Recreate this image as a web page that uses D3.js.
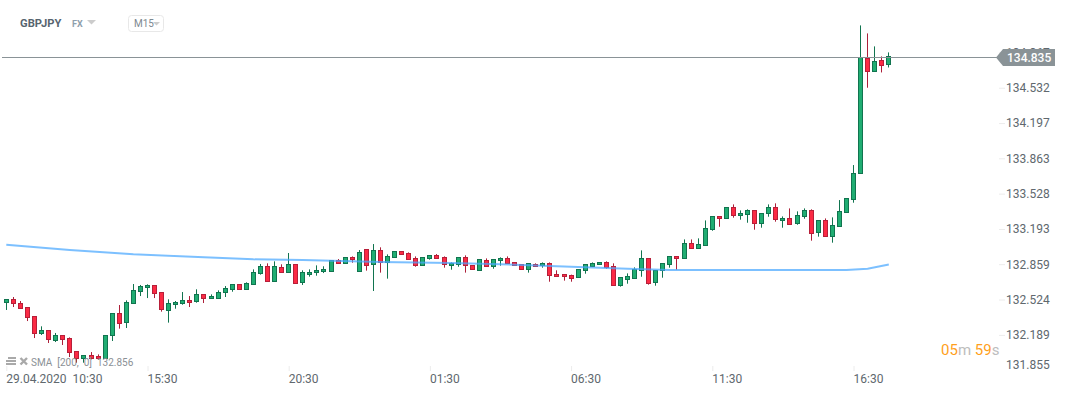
<!DOCTYPE html>
<html>
<head>
<meta charset="utf-8">
<script src="https://cdn.jsdelivr.net/npm/d3@7"></script>
<style>
    html, body { margin: 0; padding: 0; background: #fff; overflow: hidden; }
    text { font-family: Roboto, sans-serif; }
</style>
</head>
<body>
<script>
// 15 minute candles
const opens = [
    132.494,132.526,132.488,132.450,132.365,132.200,132.232,132.134,132.184,132.156,
    132.033,131.963,131.995,131.985,131.963,132.184,132.393,132.305,132.485,132.598,
    132.636,132.658,132.592,132.418,132.478,132.485,132.516,132.504,132.573,132.532,
    132.532,132.592,132.617,132.668,132.617,132.665,132.769,132.839,132.693,132.829,
    132.779,132.858,132.684,132.760,132.779,132.788,132.788,132.895,132.864,132.924,
    132.788,133.000,132.854,132.990,132.873,132.921,132.981,132.962,132.914,132.845,
    132.911,132.943,132.924,132.845,132.854,132.924,132.848,132.798,132.895,132.835,
    132.892,132.914,132.876,132.858,132.807,132.858,132.845,132.867,132.763,132.763,
    132.760,132.731,132.800,132.842,132.854,132.876,132.838,132.655,132.715,132.725,
    132.800,132.914,132.687,132.800,132.857,132.933,132.914,133.056,133.009,133.037,
    133.186,133.312,133.293,133.398,133.319,133.328,133.369,133.246,133.338,133.398,
    133.271,133.293,133.246,133.309,133.369,133.161,133.274,133.123,133.218,133.350,
    133.473,133.720,134.810,134.687,134.791,134.753
];
const highs = [
    132.526,132.548,132.510,132.450,132.365,132.270,132.232,132.207,132.184,132.165,
    132.033,131.995,132.026,132.004,132.184,132.393,132.472,132.516,132.671,132.662,
    132.668,132.658,132.592,132.526,132.510,132.595,132.557,132.621,132.573,132.573,
    132.611,132.652,132.668,132.668,132.687,132.810,132.861,132.867,132.886,132.858,
    132.965,132.858,132.801,132.810,132.848,132.839,132.895,132.908,132.924,132.933,
    132.993,133.000,133.050,133.019,132.952,132.981,132.981,132.971,132.933,132.924,
    132.943,132.955,132.933,132.876,132.924,132.943,132.848,132.905,132.914,132.905,
    132.924,132.933,132.876,132.858,132.867,132.867,132.876,132.876,132.801,132.763,
    132.760,132.810,132.857,132.876,132.876,132.886,132.867,132.734,132.772,132.829,
    132.990,132.914,132.800,132.867,132.933,132.933,133.094,133.094,133.104,133.274,
    133.312,133.312,133.398,133.426,133.369,133.379,133.369,133.341,133.426,133.436,
    133.312,133.388,133.360,133.388,133.379,133.274,133.293,133.303,133.467,133.483,
    133.799,135.123,135.047,134.924,134.829,134.867
];
const lows = [
    132.425,132.453,132.437,132.320,132.159,132.188,132.112,132.121,132.093,131.979,
    131.925,131.925,131.957,131.954,131.963,132.131,132.248,132.254,132.485,132.557,
    132.538,132.538,132.409,132.305,132.437,132.475,132.453,132.494,132.491,132.532,
    132.532,132.548,132.598,132.617,132.617,132.665,132.760,132.693,132.693,132.779,
    132.779,132.674,132.662,132.741,132.750,132.775,132.788,132.864,132.864,132.873,
    132.788,132.798,132.605,132.779,132.722,132.921,132.949,132.902,132.835,132.845,
    132.902,132.911,132.826,132.807,132.835,132.779,132.807,132.798,132.835,132.816,
    132.845,132.864,132.845,132.807,132.779,132.835,132.826,132.693,132.741,132.703,
    132.693,132.731,132.769,132.832,132.854,132.816,132.658,132.646,132.674,132.725,
    132.740,132.665,132.655,132.731,132.826,132.807,132.914,133.009,133.009,133.037,
    133.176,133.214,133.293,133.300,133.281,133.252,133.186,133.205,133.309,133.262,
    133.205,133.233,133.233,133.290,133.082,133.120,133.123,133.063,133.218,133.350,
    133.442,133.720,134.532,134.687,134.677,134.724
];
const closes = [
    132.526,132.485,132.437,132.352,132.200,132.232,132.143,132.184,132.143,132.020,
    131.963,131.995,131.970,131.963,132.184,132.393,132.295,132.497,132.611,132.649,
    132.658,132.579,132.431,132.488,132.497,132.516,132.494,132.573,132.532,132.554,
    132.592,132.630,132.668,132.617,132.677,132.782,132.839,132.693,132.839,132.779,
    132.858,132.674,132.782,132.782,132.801,132.810,132.895,132.864,132.924,132.902,
    132.971,132.845,132.990,132.873,132.933,132.981,132.949,132.902,132.845,132.924,
    132.943,132.911,132.854,132.867,132.924,132.845,132.807,132.905,132.835,132.905,
    132.914,132.864,132.845,132.807,132.867,132.835,132.867,132.750,132.741,132.741,
    132.731,132.810,132.857,132.867,132.876,132.832,132.658,132.734,132.744,132.810,
    132.914,132.674,132.800,132.867,132.933,132.914,133.056,133.009,133.047,133.199,
    133.312,133.290,133.398,133.319,133.341,133.369,133.246,133.341,133.398,133.281,
    133.293,133.233,133.322,133.369,133.151,133.274,133.123,133.227,133.360,133.483,
    133.720,134.819,134.687,134.781,134.743,134.829
];

// SMA(200), only the candles where the line was read
const smaIndex = [0, 9, 18, 28, 35, 42, 53, 63, 72, 81, 88, 94, 119, 122, 125];
const smaValues = [133.044, 132.994, 132.953, 132.924, 132.905, 132.899, 132.880, 132.870, 132.854, 132.832, 132.816, 132.804, 132.804, 132.816, 132.856];

const priceTicks = [134.867, 134.532, 134.197, 133.863, 133.528, 133.193, 132.859, 132.524, 132.189, 131.855];
const timeTickIndex = [0, 20, 40, 60, 80, 100, 120];
const timeTickLabels = ["29.04.2020  10:30", "15:30", "20:30", "01:30", "06:30", "11:30", "16:30"];

const linePrice = 134.819;
const priceLabel = "134.835";

const width = 1067, height = 395;

const svg = d3.select("body").append("svg")
    .attr("width", width)
    .attr("height", height)
    .style("display", "block");

const xScale = d3.scaleLinear().domain([0, 125]).range([6.3, 888.8]);
const yScale = d3.scaleLinear().domain([131.855, 134.867]).range([370.1, 52.4]);

const snap = v => Math.floor(v) + 0.5;

// axes
const yAxis = d3.axisRight(yScale)
    .tickValues(priceTicks)
    .tickFormat(d3.format(".3f"))
    .tickSizeInner(-6)
    .tickSizeOuter(0)
    .tickPadding(1);

const yAxisG = svg.append("g")
    .attr("transform", "translate(1005,0)")
    .call(yAxis);
yAxisG.select(".domain").remove();
yAxisG.selectAll("line").attr("stroke", "#ececec");
yAxisG.selectAll("text")
    .attr("fill", "#60686e")
    .style("font-size", "12px")
    .attr("y", d => d === 131.855 ? -5 : 0);
yAxisG.selectAll(".tick").filter(d => d === 131.855).select("line").remove();

const xAxis = d3.axisBottom(xScale)
    .tickValues(timeTickIndex)
    .tickFormat((d, i) => timeTickLabels[i])
    .tickSizeInner(5)
    .tickSizeOuter(0)
    .tickPadding(3);

const xAxisG = svg.append("g")
    .attr("transform", "translate(0,366)")
    .call(xAxis);
xAxisG.select(".domain").remove();
xAxisG.selectAll("line").attr("stroke", "#ececec");
xAxisG.selectAll("text")
    .attr("fill", "#60686e")
    .attr("text-anchor", "start")
    .attr("x", -0.5)
    .style("font-size", "12px")
    .style("white-space", "pre");

// candles
const candles = opens.map((o, i) => ({ i: i, o: o, h: highs[i], l: lows[i], c: closes[i] }));

const candleG = svg.append("g").selectAll("g")
    .data(candles)
    .enter()
    .append("g");

candleG.append("line")
    .attr("x1", d => snap(xScale(d.i)))
    .attr("x2", d => snap(xScale(d.i)))
    .attr("y1", d => yScale(d.h))
    .attr("y2", d => yScale(d.l))
    .attr("stroke", d => d.c >= d.o ? "#11744f" : "#ad1f39")
    .attr("stroke-width", 1);

candleG.append("rect")
    .attr("x", d => snap(xScale(d.i)) - 2)
    .attr("width", 4)
    .attr("y", d => Math.round(yScale(Math.max(d.o, d.c))) + 0.5)
    .attr("height", d => Math.max(1, Math.round(Math.abs(yScale(d.o) - yScale(d.c)))))
    .attr("fill", d => d.c >= d.o ? "#20ad72" : "#fb2a44")
    .attr("stroke", d => d.c >= d.o ? "#11744f" : "#b71f39")
    .attr("stroke-width", 1);

// SMA line on top of the candles
const smaLine = d3.line()
    .x((d, i) => xScale(smaIndex[i]))
    .y(d => yScale(d));

svg.append("path")
    .datum(smaValues)
    .attr("d", smaLine)
    .attr("fill", "none")
    .attr("stroke", "#4aa8ff")
    .attr("stroke-opacity", 0.72)
    .attr("stroke-width", 2);

// current price line and tag
const priceY = yScale(linePrice);

svg.append("line")
    .attr("x1", 2)
    .attr("x2", 997)
    .attr("y1", snap(priceY))
    .attr("y2", snap(priceY))
    .attr("stroke", "#8a9397")
    .attr("stroke-width", 1);

svg.append("path")
    .attr("d", `M996,${priceY} L1003,${priceY - 8.5} H1055 V${priceY + 8.5} H1003 Z`)
    .attr("fill", "#8a9397");

svg.append("text")
    .attr("x", 1007)
    .attr("y", priceY + 4.5)
    .attr("fill", "#fff")
    .attr("font-size", "12px")
    .attr("font-weight", 500)
    .text(priceLabel);

// header
svg.append("text")
    .attr("x", 20).attr("y", 27)
    .attr("fill", "#56646e")
    .attr("font-size", "11.2px")
    .attr("font-weight", 700)
    .text("GBPJPY");

svg.append("text")
    .attr("x", 72).attr("y", 27)
    .attr("fill", "#8fa0ad")
    .attr("font-size", "9px")
    .attr("font-weight", 700)
    .text("FX");

svg.append("path").attr("d", "M87,20 H96 L91.5,24.5 Z").attr("fill", "#ccc");

svg.append("rect")
    .attr("x", 128.5).attr("y", 15.5)
    .attr("width", 35).attr("height", 16)
    .attr("rx", 3)
    .attr("fill", "#fff")
    .attr("stroke", "#e8e8e8");

svg.append("text")
    .attr("x", 134).attr("y", 27)
    .attr("fill", "#7d8890")
    .attr("font-size", "10px")
    .text("M15");

svg.append("path").attr("d", "M153,22 H160 L156.5,25.5 Z").attr("fill", "#ccc");

// indicator legend
const legendIcon = svg.append("g").attr("fill", "#a9a9a9");
legendIcon.append("rect").attr("x", 8).attr("y", 357).attr("width", 8).attr("height", 2);
legendIcon.append("rect").attr("x", 6).attr("y", 360).attr("width", 10).attr("height", 2);
legendIcon.append("rect").attr("x", 6).attr("y", 363).attr("width", 10).attr("height", 2);

svg.append("path")
    .attr("d", "M20.5,358 L27,364.5 M27,358 L20.5,364.5")
    .attr("stroke", "#a9a9a9")
    .attr("stroke-width", 2.4);

svg.append("text")
    .attr("x", 31).attr("y", 366)
    .attr("fill", "#8b9196")
    .attr("font-size", "10px")
    .style("white-space", "pre")
    .text("SMA  [200,  0]  132.856");

// candle countdown
const timer = svg.append("text")
    .attr("x", 941).attr("y", 355)
    .attr("font-size", "15px")
    .style("white-space", "pre");
timer.append("tspan").attr("fill", "#ff9f1c").text("05");
timer.append("tspan").attr("fill", "#bdbdbd").text("m ");
timer.append("tspan").attr("fill", "#ff9f1c").text("59");
timer.append("tspan").attr("fill", "#bdbdbd").text("s");
</script>
</body>
</html>
